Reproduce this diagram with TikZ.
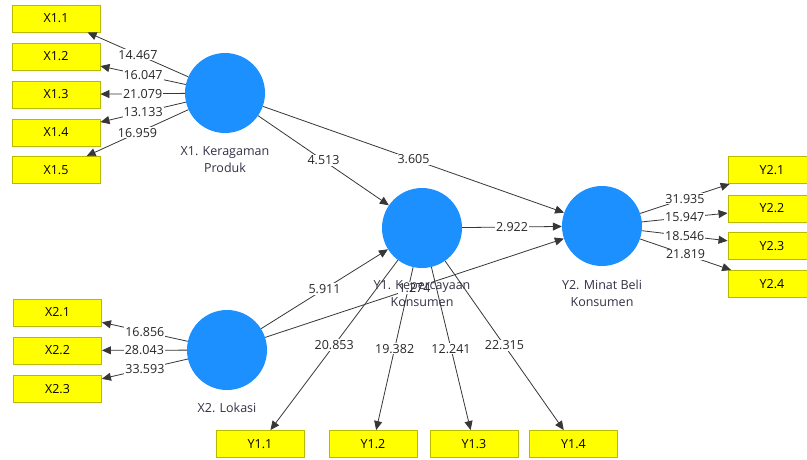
\documentclass[tikz,border=0pt]{standalone}
\usepackage{fontspec}
\setmainfont{Open Sans}
\usetikzlibrary{arrows.meta}
\definecolor{lv}{RGB}{28,144,255}
\definecolor{ind}{RGB}{255,255,0}
\definecolor{indb}{RGB}{185,185,0}
\definecolor{edgec}{RGB}{55,55,55}
\definecolor{lvtext}{RGB}{50,50,70}
\begin{document}
\begin{tikzpicture}[x=1pt,y=-1pt,
  lvnode/.style={circle,fill=lv,minimum size=80pt,inner sep=0pt},
  indbox/.style={draw=indb,fill=ind,line width=0.9pt,minimum width=88pt,minimum height=27pt,inner sep=0pt,font=\fontsize{12.5}{15}\selectfont},
  conn/.style={draw=edgec,line width=0.8pt,-{Triangle[length=9pt,width=8pt]}},
  val/.style={fill=white,inner sep=1pt,font=\fontsize{12.5}{15}\selectfont,text=black!85},
  lvlabel/.style={align=center,font=\fontsize{12.5}{17}\selectfont,text=lvtext}]
\useasboundingbox (0,0) rectangle (807,459);
\clip (0,0) rectangle (807,459);
\fill[white] (0,0) rectangle (807,459);
% latent variables
\node[lvnode] (X1) at (225,93) {};
\node[lvnode] (Y1) at (422,228) {};
\node[lvnode] (Y2) at (602,226) {};
\node[lvnode] (X2) at (227,350) {};
% indicators
\node[indbox] (X11) at (56,18.5) {X1.1};
\node[indbox] (X12) at (56,56.5) {X1.2};
\node[indbox] (X13) at (56,94.5) {X1.3};
\node[indbox] (X14) at (56,132.5) {X1.4};
\node[indbox] (X15) at (56,170) {X1.5};
\node[indbox] (X21) at (57.5,312.5) {X2.1};
\node[indbox] (X22) at (57.5,350.5) {X2.2};
\node[indbox] (X23) at (57.5,389) {X2.3};
\node[indbox] (Y21) at (772,170) {Y2.1};
\node[indbox] (Y22) at (772,208.5) {Y2.2};
\node[indbox] (Y23) at (772,246) {Y2.3};
\node[indbox] (Y24) at (772,284) {Y2.4};
\node[indbox] (Y11) at (260,444) {Y1.1};
\node[indbox] (Y12) at (373,444) {Y1.2};
\node[indbox] (Y13) at (474,444) {Y1.3};
\node[indbox] (Y14) at (573.5,444) {Y1.4};
% outer model
\draw[conn] (X1) -- node[val]{14.467} (X11);
\draw[conn] (X1) -- node[val]{16.047} (X12);
\draw[conn] (X1) -- node[val]{21.079} (X13);
\draw[conn] (X1) -- node[val]{13.133} (X14);
\draw[conn] (X1) -- node[val]{16.959} (X15);
\draw[conn] (X2) -- node[val]{16.856} (X21);
\draw[conn] (X2) -- node[val]{28.043} (X22);
\draw[conn] (X2) -- node[val]{33.593} (X23);
\draw[conn] (Y2) -- node[val]{31.935} (Y21);
\draw[conn] (Y2) -- node[val]{15.947} (Y22);
\draw[conn] (Y2) -- node[val]{18.546} (Y23);
\draw[conn] (Y2) -- node[val]{21.819} (Y24);
\draw[conn] (Y1) -- node[val]{20.853} (Y11);
\draw[conn] (Y1) -- node[val]{19.382} (Y12);
\draw[conn] (Y1) -- node[val]{12.241} (Y13);
\draw[conn] (Y1) -- node[val]{22.315} (Y14);
% inner model
\draw[conn] (X1) -- node[val]{4.513} (Y1);
\draw[conn] (X1) -- node[val]{3.605} (Y2);
\draw[conn] (Y1) -- node[val]{2.922} (Y2);
\draw[conn] (X2) -- node[val]{5.911} (Y1);
\draw[conn] (X2) -- node[val]{1.274} (Y2);
% latent labels
\node[lvlabel] (X1l) at (225,160) {X1. Keragaman\\Produk};
\node[lvlabel] (Y1l) at (422,294) {Y1. Kepercayaan\\Konsumen};
\node[lvlabel] (Y2l) at (602,293) {Y2. Minat Beli\\Konsumen};
\node[lvlabel] (X2l) at (227,408) {X2. Lokasi};
\end{tikzpicture}
\end{document}
